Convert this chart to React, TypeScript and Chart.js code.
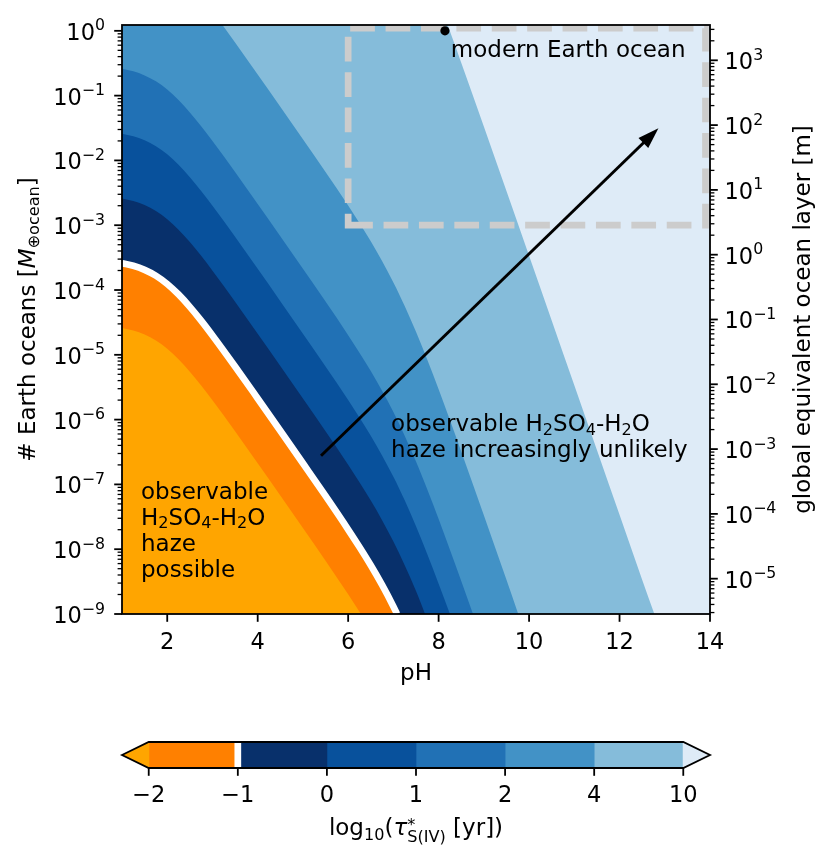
import React, { useEffect, useRef } from 'react';
import { Chart, registerables } from 'chart.js';

Chart.register(...registerables);

/* ---------------- axes ---------------- */
const PH_MIN = 1;
const PH_MAX = 14;
const M_MIN = 1e-9;
const M_MAX = 1.23;
const OCEAN_LAYER_M = 2850; // metres of global equivalent layer per Earth ocean
const X_TICKS = [2, 4, 6, 8, 10, 12, 14];
const Y_EXPONENTS = [-9, -8, -7, -6, -5, -4, -3, -2, -1, 0];
const YR_EXPONENTS = [-5, -4, -3, -2, -1, 0, 1, 2, 3];

/* ---------------- contour boundaries [pH, # Earth oceans] ---------------- */
const BOUNDARY_M2 = [
  [1, 2.59e-5], [1.25, 2.37e-5], [1.5, 2.05e-5], [1.75, 1.66e-5], [2, 1.24e-5], [2.25, 8.54e-6],
  [2.5, 5.5e-6], [2.75, 3.37e-6], [3, 1.99e-6], [3.5, 6.61e-7], [4, 2.12e-7], [4.5, 6.73e-8],
  [5, 2.12e-8], [5.5, 6.63e-9], [6, 2.01e-9], [6.25, 1.08e-9], [6.28, 1.0e-9],
];
const BOUNDARY_M1 = [
  [1, 2.59e-4], [1.25, 2.37e-4], [1.5, 2.05e-4], [1.75, 1.66e-4], [2, 1.24e-4], [2.25, 8.54e-5],
  [2.5, 5.5e-5], [2.75, 3.37e-5], [3, 1.99e-5], [3.5, 6.61e-6], [4, 2.12e-6], [4.5, 6.73e-7],
  [5, 2.12e-7], [5.5, 6.63e-8], [6, 2.01e-8], [6.25, 1.08e-8], [6.5, 5.64e-9], [6.75, 2.81e-9],
  [7, 1.31e-9], [7.08, 1.0e-9],
];
const BOUNDARY_0 = [
  [1, 2.59e-3], [1.25, 2.37e-3], [1.5, 2.05e-3], [1.75, 1.66e-3], [2, 1.24e-3], [2.25, 8.54e-4],
  [2.5, 5.5e-4], [2.75, 3.37e-4], [3, 1.99e-4], [3.5, 6.61e-5], [4, 2.12e-5], [4.5, 6.73e-6],
  [5, 2.12e-6], [5.5, 6.63e-7], [6, 2.01e-7], [6.5, 5.64e-8], [6.75, 2.81e-8], [7, 1.31e-8],
  [7.25, 5.67e-9], [7.5, 2.26e-9], [7.7, 1.0e-9],
];
const BOUNDARY_1 = [
  [1, 2.59e-2], [1.25, 2.37e-2], [1.5, 2.05e-2], [1.75, 1.66e-2], [2, 1.24e-2], [2.25, 8.54e-3],
  [2.5, 5.5e-3], [2.75, 3.37e-3], [3, 1.99e-3], [3.5, 6.61e-4], [4, 2.12e-4], [4.5, 6.73e-5],
  [5, 2.12e-5], [5.5, 6.63e-6], [6, 2.01e-6], [6.5, 5.64e-7], [7, 1.31e-7], [7.25, 5.67e-8],
  [7.5, 2.26e-8], [7.75, 8.36e-9], [8, 2.93e-9], [8.25, 1.0e-9],
];
const BOUNDARY_2 = [
  [1, 0.259], [1.25, 0.237], [1.5, 0.205], [1.75, 0.166], [2, 0.124], [2.25, 0.0854],
  [2.5, 0.055], [2.75, 0.0337], [3, 0.0199], [3.5, 6.61e-3], [4, 2.12e-3], [4.5, 6.73e-4],
  [5, 2.12e-4], [5.5, 6.63e-5], [6, 2.01e-5], [6.5, 5.64e-6], [7, 1.31e-6], [7.5, 2.26e-7],
  [7.75, 8.36e-8], [8, 2.93e-8], [8.25, 9.84e-9], [8.5, 3.23e-9], [8.76, 1.0e-9],
];
const BOUNDARY_4 = [
  [1, 25.9], [1.5, 20.5], [2, 12.4], [2.5, 5.5], [3, 1.99], [3.5, 0.661], [4, 0.212],
  [4.5, 0.0673], [5, 0.0212], [5.5, 6.63e-3], [6, 2.01e-3], [6.5, 5.64e-4], [7, 1.31e-4],
  [7.25, 5.67e-5], [7.5, 2.26e-5], [7.75, 8.36e-6], [8, 2.93e-6], [8.5, 3.23e-7], [9, 3.34e-8],
  [9.5, 3.37e-9], [9.76, 1.0e-9],
];
const BOUNDARY_10 = [
  [1, 2.59e7], [3, 1.99e6], [5, 2.12e4], [6, 2.01e3], [6.5, 564], [7, 131], [7.5, 22.6],
  [7.75, 8.36], [8, 2.93], [8.25, 0.984], [8.5, 0.323], [9, 0.0334], [9.5, 3.37e-3],
  [10, 3.38e-4], [10.5, 3.39e-5], [11, 3.39e-6], [11.5, 3.39e-7], [12, 3.39e-8],
  [12.5, 3.39e-9], [12.77, 1.0e-9],
];
const BACKGROUND = [[1, 10], [14, 10]];

/* ---------------- colours ---------------- */
const COLOR_UNDER = '#ffa500';
const BAND_COLORS = ['#ff8000', '#08306b', '#08519c', '#2171b5', '#4292c6', '#85bcda'];
const COLOR_OVER = '#deebf7';
const CB_TICK_LABELS = ['−2', '−1', '0', '1', '2', '4', '10'];
const CB_SLOTS = [1, 1, 1, 1, 1, 1];
const CB_EXTEND = 0.3;

/* ---------------- annotations ---------------- */
const MODERN_EARTH = [{ x: 8.14, y: 1.0 }];
const ARROW_FROM = { pH: 5.4, M: 2.77e-7 };
const ARROW_TO = { pH: 12.86, M: 3.13e-2 };
const BOX = { pH0: 6, pH1: 13.9, M0: 1e-3, M1: 1.1 };
const TEXT_MODERN = { pH: 8.27, M: 0.394 };
const TEXT_UNLIKELY = { pH: 6.95, M: 6.67e-7 };
const TEXT_POSSIBLE = { pH: 1.42, M: 5.96e-8 };

/* ---------------- text helpers ---------------- */
const FAMILY = '"DejaVu Sans", "Noto Sans", sans-serif';
const FS = 23;
const FS_TICK = 22.5;
const LINE_GAP = 26;

type Run = { t: string; size?: number; dy?: number; italic?: boolean; stack?: boolean };
const R = (t: string): Run => ({ t });
const SUB = (t: string, dy = 3.5): Run => ({ t, size: FS * 0.7, dy });

const H2SO4_H2O: Run[] = [R('H'), SUB('2'), R('SO'), SUB('4'), R('-H'), SUB('2'), R('O')];
const UNLIKELY_LINES: Run[][] = [[R('observable '), ...H2SO4_H2O], [R('haze increasingly unlikely')]];
const POSSIBLE_LINES: Run[][] = [[R('observable')], H2SO4_H2O, [R('haze')], [R('possible')]];
const YLABEL: Run[] = [R('# Earth oceans ['), { t: 'M', italic: true }, SUB('⊕ocean', 3.5), R(']')];
const YRLABEL: Run[] = [R('global equivalent ocean layer [m]')];
const XLABEL: Run[] = [R('pH')];
const CB_LABEL: Run[] = [
  R('log'), SUB('10', 4.5), R('('), { t: 'τ', italic: true },
  { t: '*', size: FS * 0.7, dy: -5, stack: true }, { t: 'S(IV)', size: FS * 0.7, dy: 7 }, R(' [yr])'),
];

function fontOf(r: Run, base: number) {
  return `${r.italic ? 'italic ' : ''}${r.size ?? base}px ${FAMILY}`;
}
function runsWidth(ctx: CanvasRenderingContext2D, runs: Run[], base: number) {
  let w = 0;
  for (const r of runs) {
    ctx.font = fontOf(r, base);
    if (!r.stack) w += ctx.measureText(r.t).width;
  }
  return w;
}
function drawRuns(ctx: CanvasRenderingContext2D, runs: Run[], x: number, y: number, base: number) {
  let cx = x;
  for (const r of runs) {
    ctx.font = fontOf(r, base);
    ctx.fillText(r.t, cx, y + (r.dy ?? 0));
    if (!r.stack) cx += ctx.measureText(r.t).width;
  }
}
function powRuns(e: number): Run[] {
  return [{ t: '10', size: FS_TICK }, { t: e < 0 ? '−' + -e : String(e), size: FS_TICK * 0.7, dy: -9.4 }];
}
function seg(ctx: CanvasRenderingContext2D, x1: number, y1: number, x2: number, y2: number, w: number) {
  ctx.lineWidth = w;
  ctx.beginPath();
  ctx.moveTo(x1, y1);
  ctx.lineTo(x2, y2);
  ctx.stroke();
}
function logTicks(scale: any, cb: (p: number, major: boolean) => void) {
  const lo = Math.floor(Math.log10(scale.min));
  const hi = Math.floor(Math.log10(scale.max));
  for (let e = lo; e <= hi; e++) {
    for (let m = 1; m <= 9; m++) {
      const v = m * Math.pow(10, e);
      if (v < scale.min * 0.999 || v > scale.max * 1.001) continue;
      cb(scale.getPixelForValue(v), m === 1);
    }
  }
}

const MAJOR = 7.8;
const MINOR = 4.4;

/* ---------------- main chart plugin ---------------- */
const mainDecor = {
  id: 'mainDecor',
  afterDatasetDraw(chart: any, args: any) {
    if (args.index !== 1) return;
    const { ctx, chartArea: a, scales } = chart;
    const sx = scales.x;
    const sy = scales.y;
    ctx.save();
    ctx.beginPath();
    ctx.rect(a.left, a.top, a.right - a.left, a.bottom - a.top);
    ctx.clip();
    // dashed box
    const bx0 = sx.getPixelForValue(BOX.pH0);
    const bx1 = sx.getPixelForValue(BOX.pH1);
    const by0 = sy.getPixelForValue(BOX.M0);
    const by1 = sy.getPixelForValue(BOX.M1);
    ctx.strokeStyle = '#cccccc';
    ctx.lineWidth = 6.7;
    ctx.lineCap = 'butt';
    ctx.lineJoin = 'miter';
    ctx.setLineDash([24.7, 10.7]);
    ctx.beginPath();
    ctx.moveTo(bx0, by0);
    ctx.lineTo(bx1, by0);
    ctx.lineTo(bx1, by1);
    ctx.lineTo(bx0, by1);
    ctx.closePath();
    ctx.stroke();
    ctx.setLineDash([]);
    // arrow
    const ax0 = sx.getPixelForValue(ARROW_FROM.pH);
    const ay0 = sy.getPixelForValue(ARROW_FROM.M);
    const ax1 = sx.getPixelForValue(ARROW_TO.pH);
    const ay1 = sy.getPixelForValue(ARROW_TO.M);
    const dx = ax1 - ax0;
    const dy = ay1 - ay0;
    const len = Math.hypot(dx, dy);
    const ux = dx / len;
    const uy = dy / len;
    const HL = 21;
    const HW = 7;
    const hx = ax1 - ux * HL;
    const hy = ay1 - uy * HL;
    ctx.strokeStyle = '#000';
    seg(ctx, ax0, ay0, hx + ux, hy + uy, 3);
    ctx.fillStyle = '#000';
    ctx.beginPath();
    ctx.moveTo(ax1, ay1);
    ctx.lineTo(hx - uy * HW, hy + ux * HW);
    ctx.lineTo(hx + uy * HW, hy - ux * HW);
    ctx.closePath();
    ctx.fill();
    ctx.restore();
  },
  afterDatasetsDraw(chart: any) {
    const { ctx, chartArea: a, scales } = chart;
    const sx = scales.x;
    const sy = scales.y;
    const sr = scales.yR;
    ctx.save();
    ctx.fillStyle = '#000';
    ctx.strokeStyle = '#000';
    ctx.textBaseline = 'alphabetic';
    ctx.textAlign = 'left';

    // annotations
    drawRuns(ctx, [R('modern Earth ocean')], sx.getPixelForValue(TEXT_MODERN.pH), sy.getPixelForValue(TEXT_MODERN.M), FS);
    let px = sx.getPixelForValue(TEXT_UNLIKELY.pH);
    let py = sy.getPixelForValue(TEXT_UNLIKELY.M);
    UNLIKELY_LINES.forEach((ln, i) => drawRuns(ctx, ln, px, py + i * LINE_GAP, FS));
    px = sx.getPixelForValue(TEXT_POSSIBLE.pH);
    py = sy.getPixelForValue(TEXT_POSSIBLE.M);
    POSSIBLE_LINES.forEach((ln, i) => drawRuns(ctx, ln, px, py + i * LINE_GAP, FS));

    // frame
    ctx.lineWidth = 1.8;
    ctx.strokeRect(a.left, a.top, a.right - a.left, a.bottom - a.top);

    // x ticks
    ctx.textAlign = 'center';
    ctx.font = `${FS_TICK}px ${FAMILY}`;
    for (const v of X_TICKS) {
      const p = sx.getPixelForValue(v);
      seg(ctx, p, a.bottom, p, a.bottom + MAJOR, 1.8);
      ctx.font = `${FS_TICK}px ${FAMILY}`;
      ctx.fillText(String(v), p, a.bottom + 35);
    }
    ctx.textAlign = 'left';
    const xlw = runsWidth(ctx, XLABEL, FS);
    drawRuns(ctx, XLABEL, (a.left + a.right) / 2 - xlw / 2, a.bottom + 66, FS);

    // left log ticks
    logTicks(sy, (p, major) => seg(ctx, a.left, p, a.left - (major ? MAJOR : MINOR), p, major ? 1.8 : 1.3));
    for (const e of Y_EXPONENTS) {
      const p = sy.getPixelForValue(Math.pow(10, e));
      const runs = powRuns(e);
      const w = runsWidth(ctx, runs, FS_TICK);
      drawRuns(ctx, runs, a.left - 17 - w, p + 9, FS_TICK);
    }
    // right log ticks
    logTicks(sr, (p, major) => seg(ctx, a.right, p, a.right + (major ? MAJOR : MINOR), p, major ? 1.8 : 1.3));
    for (const e of YR_EXPONENTS) {
      const p = sr.getPixelForValue(Math.pow(10, e));
      drawRuns(ctx, powRuns(e), a.right + 14.5, p + 9, FS_TICK);
    }

    // axis titles (rotated)
    const cy = (a.top + a.bottom) / 2;
    const ylw = runsWidth(ctx, YLABEL, FS);
    ctx.save();
    ctx.translate(a.left - 87, cy);
    ctx.rotate(-Math.PI / 2);
    drawRuns(ctx, YLABEL, -ylw / 2, 0, FS);
    ctx.restore();
    const yrw = runsWidth(ctx, YRLABEL, FS);
    ctx.save();
    ctx.translate(a.right + 100, cy);
    ctx.rotate(-Math.PI / 2);
    drawRuns(ctx, YRLABEL, -yrw / 2, 0, FS);
    ctx.restore();

    ctx.restore();
  },
};

/* ---------------- colorbar plugin ---------------- */
const cbDecor = {
  id: 'cbDecor',
  afterDatasetsDraw(chart: any) {
    const { ctx, chartArea: a, scales } = chart;
    const x = scales.x;
    const n = CB_TICK_LABELS.length - 1;
    const x0 = x.getPixelForValue(0);
    const xn = x.getPixelForValue(n);
    const xl = x.getPixelForValue(-CB_EXTEND);
    const xr = x.getPixelForValue(n + CB_EXTEND);
    const my = (a.top + a.bottom) / 2;
    ctx.save();
    ctx.fillStyle = COLOR_UNDER;
    ctx.beginPath();
    ctx.moveTo(x0 + 0.5, a.top);
    ctx.lineTo(xl, my);
    ctx.lineTo(x0 + 0.5, a.bottom);
    ctx.closePath();
    ctx.fill();
    ctx.fillStyle = COLOR_OVER;
    ctx.beginPath();
    ctx.moveTo(xn - 0.5, a.top);
    ctx.lineTo(xr, my);
    ctx.lineTo(xn - 0.5, a.bottom);
    ctx.closePath();
    ctx.fill();
    // contour line at level -1
    const xw = x.getPixelForValue(1);
    ctx.fillStyle = '#ffffff';
    ctx.fillRect(xw - 3.35, a.top, 6.7, a.bottom - a.top);
    // outline
    ctx.strokeStyle = '#000';
    ctx.lineWidth = 1.8;
    ctx.lineJoin = 'miter';
    ctx.beginPath();
    ctx.moveTo(xl, my);
    ctx.lineTo(x0, a.top);
    ctx.lineTo(xn, a.top);
    ctx.lineTo(xr, my);
    ctx.lineTo(xn, a.bottom);
    ctx.lineTo(x0, a.bottom);
    ctx.closePath();
    ctx.stroke();
    // ticks and labels
    ctx.fillStyle = '#000';
    ctx.textAlign = 'center';
    ctx.textBaseline = 'alphabetic';
    CB_TICK_LABELS.forEach((lab, i) => {
      const p = x.getPixelForValue(i);
      seg(ctx, p, a.bottom, p, a.bottom + MAJOR, 1.8);
      ctx.font = `${FS_TICK}px ${FAMILY}`;
      ctx.fillText(lab, p, a.bottom + 34);
    });
    ctx.textAlign = 'left';
    const w = runsWidth(ctx, CB_LABEL, FS);
    drawRuns(ctx, CB_LABEL, (a.left + a.right) / 2 - w / 2, a.bottom + 67, FS);
    ctx.restore();
  },
};

/* ---------------- configs ---------------- */
function contourSet(points: number[][], color: string, line?: { color: string; width: number }) {
  return {
    data: points.map(([x, y]) => ({ x, y })),
    showLine: true,
    fill: 'start',
    backgroundColor: color,
    borderColor: line ? line.color : 'transparent',
    borderWidth: line ? line.width : 0,
    pointRadius: 0,
    cubicInterpolationMode: 'monotone',
    clip: 0,
  };
}

function mainConfig(): any {
  return {
    type: 'scatter',
    data: {
      datasets: [
        { data: MODERN_EARTH, pointRadius: 4.6, backgroundColor: '#000', borderWidth: 0, showLine: false, clip: false },
        contourSet(BOUNDARY_M2, COLOR_UNDER),
        contourSet(BOUNDARY_M1, BAND_COLORS[0], { color: '#ffffff', width: 6.7 }),
        contourSet(BOUNDARY_0, BAND_COLORS[1]),
        contourSet(BOUNDARY_1, BAND_COLORS[2]),
        contourSet(BOUNDARY_2, BAND_COLORS[3]),
        contourSet(BOUNDARY_4, BAND_COLORS[4]),
        contourSet(BOUNDARY_10, BAND_COLORS[5]),
        contourSet(BACKGROUND, COLOR_OVER),
      ],
    },
    options: {
      animation: false,
      responsive: false,
      maintainAspectRatio: false,
      devicePixelRatio: 1,
      events: [],
      layout: { padding: { left: 122, right: 121, top: 25, bottom: 86 } },
      plugins: { legend: { display: false }, tooltip: { enabled: false }, title: { display: false } },
      scales: {
        x: { type: 'linear', min: PH_MIN, max: PH_MAX, display: false },
        y: { type: 'logarithmic', min: M_MIN, max: M_MAX, display: false },
        yR: { type: 'logarithmic', position: 'right', min: M_MIN * OCEAN_LAYER_M, max: M_MAX * OCEAN_LAYER_M, display: false },
      },
    },
    plugins: [mainDecor],
  };
}

function cbConfig(): any {
  const colors = BAND_COLORS;
  return {
    type: 'bar',
    data: {
      labels: ['cb'],
      datasets: CB_SLOTS.map((v, i) => ({
        data: [v],
        backgroundColor: colors[i],
        borderWidth: 0,
        barPercentage: 1,
        categoryPercentage: 1,
      })),
    },
    options: {
      indexAxis: 'y',
      animation: false,
      responsive: false,
      maintainAspectRatio: false,
      devicePixelRatio: 1,
      events: [],
      layout: { padding: { left: 122, right: 121, top: 42, bottom: 96 } },
      plugins: { legend: { display: false }, tooltip: { enabled: false } },
      scales: {
        x: { type: 'linear', min: -CB_EXTEND, max: CB_SLOTS.length + CB_EXTEND, stacked: true, display: false },
        y: { type: 'category', stacked: true, display: false },
      },
    },
    plugins: [cbDecor],
  };
}

export default function App() {
  const mainRef = useRef<HTMLCanvasElement>(null);
  const cbRef = useRef<HTMLCanvasElement>(null);
  useEffect(() => {
    const c1 = new Chart(mainRef.current as HTMLCanvasElement, mainConfig());
    const c2 = new Chart(cbRef.current as HTMLCanvasElement, cbConfig());
    return () => {
      c1.destroy();
      c2.destroy();
    };
  }, []);
  return (
    <div style={{ position: 'absolute', left: 0, top: 0, width: 831, height: 864, background: '#fff', overflow: 'hidden' }}>
      <canvas ref={mainRef} width={831} height={700} style={{ position: 'absolute', left: 0, top: 0, width: 831, height: 700 }} />
      <canvas ref={cbRef} width={831} height={164} style={{ position: 'absolute', left: 0, top: 700, width: 831, height: 164 }} />
    </div>
  );
}
